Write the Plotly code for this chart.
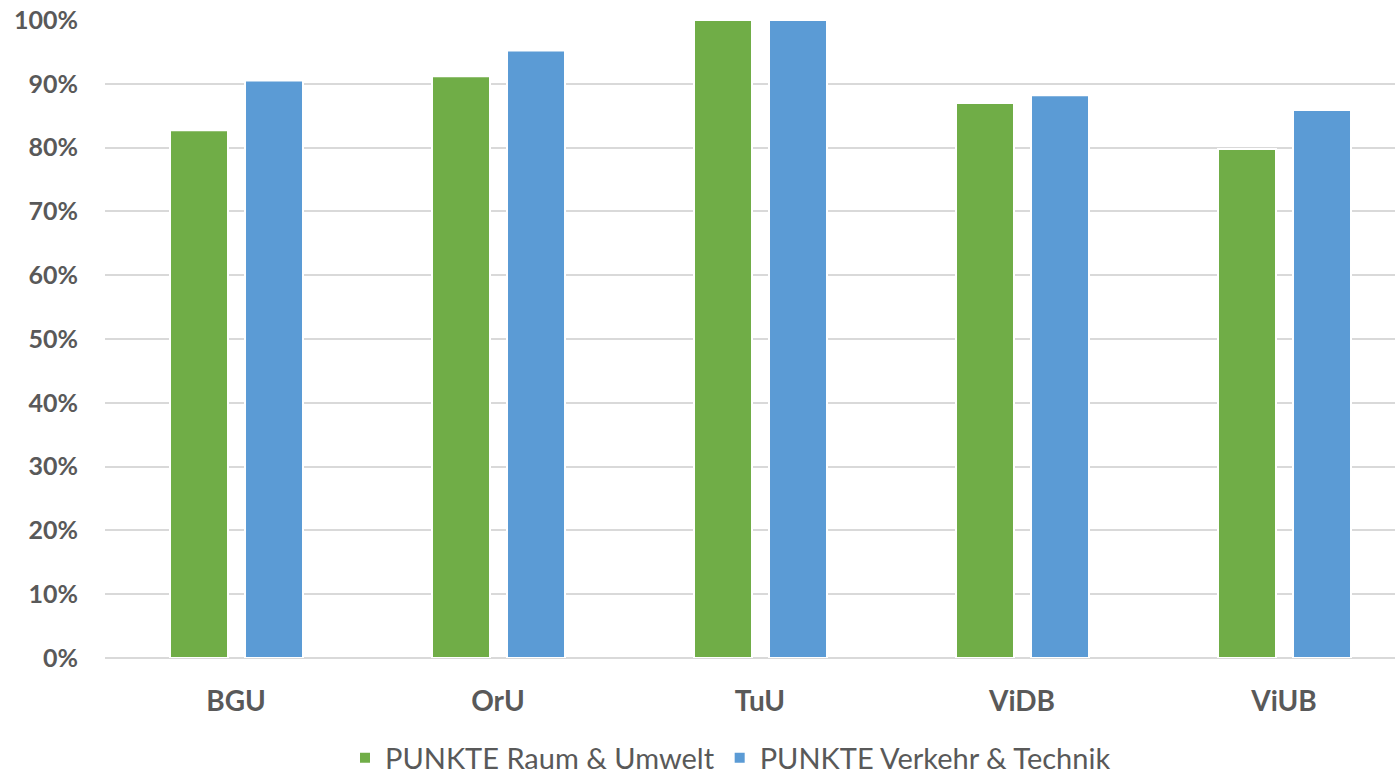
import plotly.graph_objects as go

# Kategorien und Anteile (in %)
categories = ["BGU", "OrU", "TuU", "ViDB", "ViUB"]
raum_umwelt = [82.7, 91.2, 100.0, 87.0, 79.8]
verkehr_technik = [90.5, 95.2, 100.0, 88.2, 85.9]
series_names = ["PUNKTE Raum & Umwelt", "PUNKTE Verkehr & Technik"]
y_ticks = list(range(0, 101, 10))

GREEN = "#70AD47"
BLUE = "#5B9BD5"
TEXT = "#595959"
GRID = "#D9D9D9"
FONT = "Lato"

W, H = 1395, 777
LEFT, TOP, BOTTOM = 105, 20, 119
CAT_PX = 262.0  # pixel width of one category slot

bar_w = 58 / CAT_PX

fig = go.Figure()
fig.add_trace(go.Bar(
    x=categories, y=raum_umwelt, name=series_names[0],
    marker=dict(color=GREEN, line=dict(color="white", width=2)),
    width=bar_w, offset=-0.2519,
))
fig.add_trace(go.Bar(
    x=categories, y=verkehr_technik, name=series_names[1],
    marker=dict(color=BLUE, line=dict(color="white", width=2)),
    width=bar_w, offset=0.0344,
))

x_end = -0.5 + (W - LEFT) / CAT_PX

fig.update_layout(
    width=W, height=H,
    margin=dict(l=LEFT, r=0, t=TOP, b=BOTTOM, pad=0),
    paper_bgcolor="white", plot_bgcolor="white",
    barmode="overlay",
    font=dict(family=FONT, color=TEXT),
    showlegend=True,
    legend=dict(
        orientation="h",
        xref="container", yref="container",
        x=345 / W, xanchor="left",
        y=1 - 758 / H, yanchor="middle",
        font=dict(family=FONT, size=29, color=TEXT),
        itemwidth=30,
        bgcolor="rgba(0,0,0,0)",
    ),
    xaxis=dict(
        type="category",
        range=[-0.5, x_end],
        showgrid=False, showline=False, zeroline=False,
        ticks="",
        tickfont=dict(family=FONT, size=28, color=TEXT, weight="bold"),
        ticklabelstandoff=24,
    ),
    yaxis=dict(
        range=[0, 100],
        tickvals=y_ticks,
        ticktext=[f"{v}%" for v in y_ticks],
        showgrid=True, gridcolor=GRID, gridwidth=2,
        zeroline=True, zerolinecolor=GRID, zerolinewidth=2,
        showline=False, ticks="",
        tickfont=dict(family=FONT, size=25, color=TEXT, weight="bold"),
        ticklabelstandoff=26,
    ),
)

fig.write_html("out.html")
